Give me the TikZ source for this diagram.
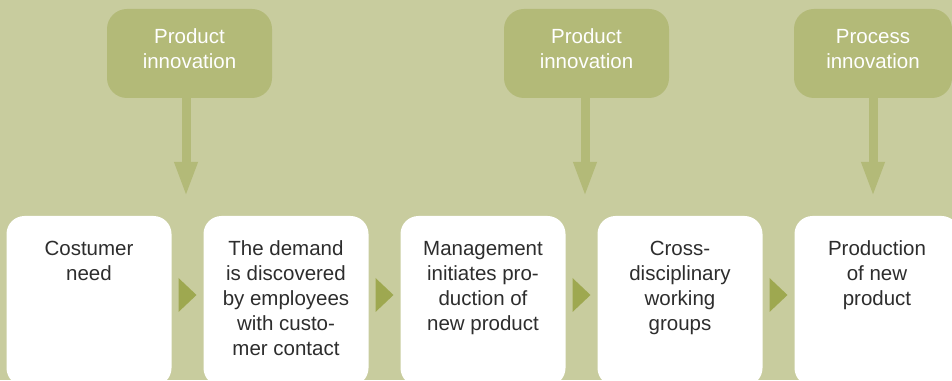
\documentclass[tikz,border=0pt]{standalone}
\usepackage{fontspec}
\setmainfont{Liberation Sans}
\usetikzlibrary{positioning,calc,arrows.meta}

\definecolor{bgcol}{RGB}{200,204,158}
\definecolor{innocol}{RGB}{179,186,120}
\definecolor{tricol}{RGB}{158,168,80}
\definecolor{txtcol}{RGB}{45,45,45}

\tikzset{
  innobox/.style={fill=innocol, rounded corners=20pt, minimum height=89pt, inner sep=0pt},
  innotext/.style={text=white, align=center, inner sep=0pt, font=\fontsize{20.5}{25}\selectfont},
  stagebox/.style={fill=white, rounded corners=18pt, minimum width=165pt, minimum height=170pt, inner sep=0pt},
  stagetext/.style={text=txtcol, align=center, inner sep=0pt, font=\fontsize{20.5}{25}\selectfont},
  innoarrow/.style={draw=innocol, line width=9pt, -{Triangle[width=21pt,length=35pt]}},
  tri/.style={fill=tricol}
}

\begin{document}
\begin{tikzpicture}[x=1pt,y=1pt]
    \useasboundingbox (0,0) rectangle (952,380);
    \clip (0,0) rectangle (952,380);
    \fill[bgcol] (0,0) rectangle (952,380);

    % the stages of the process
    \foreach \i/\txt in {1/{Costumer\\need},
                         2/{The demand\\is discovered\\by employees\\with custo-\\mer contact},
                         3/{Management\\initiates pro-\\duction of\\new product},
                         4/{Cross-\\disciplinary\\working\\groups},
                         5/{Production\\of new\\product}} {
      \node[stagebox] (st\i) at ({89+197*(\i-1)},79) {};
      \node[stagetext, below=25pt of st\i.north] (st\i t) {\txt};
    }

    % small triangles between the stages
    \foreach \i/\j in {1/2, 2/3, 3/4, 4/5} {
      \fill[tri] ($(st\i.east)!.5!(st\j.west)+(-9,23)$) -- ++(18,-17) -- ++(-18,-17) -- cycle;
    }

    % innovation boxes on top
    \node[innobox, minimum width=165pt] (pi1) at (189.5,326.5) {};
    \node[innotext, below=20pt of pi1.north] (pi1t) {Product\\innovation};
    \node[innobox, minimum width=165pt] (pi2) at (586.5,326.5) {};
    \node[innotext, below=20pt of pi2.north] (pi2t) {Product\\innovation};
    \node[innobox, minimum width=158pt] (pr3) at (873,326.5) {};
    \node[innotext, below=20pt of pr3.north] (pr3t) {Process\\innovation};

    % arrows down to the stages
    \coordinate (a1) at (186,183);
    \coordinate (a2) at (585,183);
    \coordinate (a3) at (873,183);
    \draw[innoarrow] (pi1.south -| a1) -- (a1);
    \draw[innoarrow] (pi2.south -| a2) -- (a2);
    \draw[innoarrow] (pr3.south -| a3) -- (a3);
\end{tikzpicture}
\end{document}
